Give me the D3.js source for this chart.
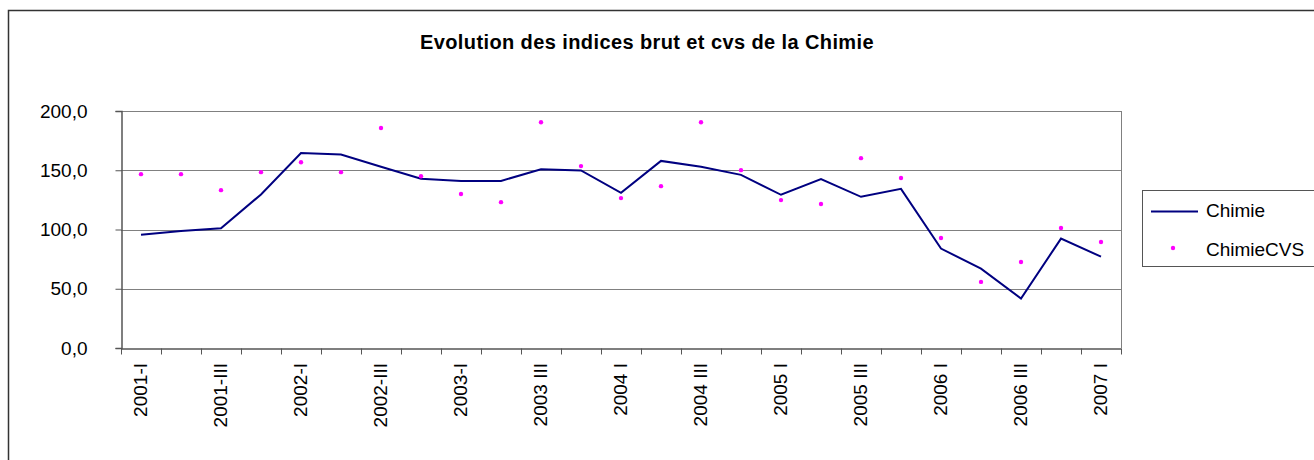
<!DOCTYPE html>
<html>
<head>
<meta charset="utf-8">
<script src="https://cdn.jsdelivr.net/npm/d3@7"></script>
<style>
  body { margin: 0; background: #fff; }
  svg { display: block; font-family: "Liberation Sans", Arial, sans-serif; }
</style>
</head>
<body>
<div id="chart"></div>
<script>
// quarters (categories)
var quarters = [
  "2001-I", "2001-II", "2001-III", "2001-IV",
  "2002-I", "2002-II", "2002-III", "2002-IV",
  "2003-I", "2003-II", "2003 III", "2003 IV",
  "2004 I", "2004 II", "2004 III", "2004 IV",
  "2005 I", "2005 II", "2005 III", "2005 IV",
  "2006 I", "2006 II", "2006 III", "2006 IV",
  "2007 I"
];

// raw index (line)
var chimie = [
  95.6, 98.8, 101.0, 129.6,
  164.6, 163.3, 152.9, 142.8,
  141.0, 141.0, 150.9, 149.8,
  131.0, 157.9, 152.9, 146.1,
  129.3, 142.5, 127.6, 134.3,
  83.9, 67.0, 41.8, 92.3,
  77.1
];

// seasonally adjusted index (dots)
var chimieCVS = [
  146.7, 146.7, 133.2, 148.4,
  156.8, 148.4, 185.7, 145.0,
  129.9, 123.1, 190.5, 153.5,
  126.5, 136.6, 190.5, 150.1,
  124.8, 121.5, 160.2, 143.4,
  92.8, 55.8, 72.6, 101.3,
  89.5
];

var yTicks = [0, 50, 100, 150, 200];

var svgWidth = 1314;
var svgHeight = 460;

var plot = { left: 121, top: 111, right: 1121, bottom: 348 };

var svg = d3.select("#chart")
  .append("svg")
  .attr("width", svgWidth)
  .attr("height", svgHeight);

// outer chart frame (runs off the right and bottom edges)
svg.append("rect")
  .attr("x", 8.5)
  .attr("y", 10.5)
  .attr("width", 1320)
  .attr("height", 470)
  .attr("fill", "#fff")
  .attr("stroke", "#333")
  .attr("stroke-width", 1.5);

// title
svg.append("text")
  .attr("x", 647)
  .attr("y", 49)
  .attr("text-anchor", "middle")
  .attr("font-size", "20px")
  .attr("font-weight", "bold")
  .attr("letter-spacing", "0.4px")
  .attr("fill", "#000")
  .text("Evolution des indices brut et cvs de la Chimie");

// scales
var xScale = d3.scaleBand()
  .domain(quarters)
  .range([plot.left, plot.right])
  .padding(0);

var yScale = d3.scaleLinear()
  .domain([0, 200])
  .range([plot.bottom, plot.top]);

var xc = function (d, i) { return xScale(quarters[i]) + xScale.bandwidth() / 2; };

// gridlines
svg.append("g")
  .selectAll("line")
  .data(yTicks.filter(function (t) { return t > 0; }))
  .enter()
  .append("line")
  .attr("x1", plot.left)
  .attr("x2", plot.right)
  .attr("y1", function (d) { return Math.round(yScale(d)) + 0.5; })
  .attr("y2", function (d) { return Math.round(yScale(d)) + 0.5; })
  .attr("stroke", "#808080")
  .attr("stroke-width", 1);

// right border of plot area
svg.append("line")
  .attr("x1", plot.right + 0.5)
  .attr("x2", plot.right + 0.5)
  .attr("y1", plot.top)
  .attr("y2", plot.bottom)
  .attr("stroke", "#808080");

// y axis
var leftAxis = d3.axisLeft(yScale)
  .tickValues(yTicks)
  .tickSize(6)
  .tickPadding(28)
  .tickFormat(function (d) { return d3.format(".1f")(d).replace(".", ","); });

var yAxis = svg.append("g")
  .attr("transform", "translate(" + (plot.left + 0.5) + ",0)")
  .call(leftAxis);

yAxis.select(".domain").attr("stroke", "#555").attr("stroke-width", 1.5);
yAxis.selectAll(".tick line").attr("stroke", "#555");
yAxis.selectAll(".tick text")
  .attr("font-size", "19px")
  .attr("font-family", "Liberation Sans, Arial, sans-serif")
  .attr("fill", "#000");

// x axis with boundary ticks
var bottomAxis = d3.axisBottom(xScale).tickSize(0).tickFormat("");
var xAxis = svg.append("g")
  .attr("transform", "translate(0," + (plot.bottom + 0.5) + ")")
  .call(bottomAxis);
xAxis.select(".domain").attr("stroke", "#555").attr("stroke-width", 1.5);

var boundaries = quarters.map(function (q) { return xScale(q); }).concat([plot.right]);
xAxis.selectAll("line.bound")
  .data(boundaries)
  .enter()
  .append("line")
  .attr("class", "bound")
  .attr("x1", function (d) { return d + 0.5; })
  .attr("x2", function (d) { return d + 0.5; })
  .attr("y1", 0)
  .attr("y2", 6)
  .attr("stroke", "#555");

// x labels, every other quarter
svg.append("g")
  .selectAll("text")
  .data(quarters)
  .enter()
  .filter(function (d, i) { return i % 2 === 0; })
  .append("text")
  .attr("transform", function (d) {
    var x = xScale(d) + xScale.bandwidth() / 2;
    return "translate(" + x + "," + (plot.bottom + 15) + ") rotate(-90)";
  })
  .attr("dy", "0.33em")
  .attr("text-anchor", "end")
  .attr("font-size", "19px")
  .attr("fill", "#000")
  .text(function (d) { return d; });

// line series
var line = d3.line()
  .x(xc)
  .y(function (d) { return yScale(d); });

svg.append("path")
  .datum(chimie)
  .attr("d", line)
  .attr("fill", "none")
  .attr("stroke", "#000080")
  .attr("stroke-width", 2);

// CVS dots
svg.append("g")
  .selectAll("circle")
  .data(chimieCVS)
  .enter()
  .append("circle")
  .attr("cx", xc)
  .attr("cy", function (d) { return yScale(d); })
  .attr("r", 2.2)
  .attr("fill", "#ff00ff");

// legend
var legend = svg.append("g");
legend.append("rect")
  .attr("x", 1142.5)
  .attr("y", 190.5)
  .attr("width", 200)
  .attr("height", 76)
  .attr("fill", "#fff")
  .attr("stroke", "#555")
  .attr("stroke-width", 1);

legend.append("line")
  .attr("x1", 1151)
  .attr("x2", 1198)
  .attr("y1", 211.5)
  .attr("y2", 211.5)
  .attr("stroke", "#000080")
  .attr("stroke-width", 2);

legend.append("circle")
  .attr("cx", 1173)
  .attr("cy", 248)
  .attr("r", 2.2)
  .attr("fill", "#ff00ff");

legend.append("text")
  .attr("x", 1206)
  .attr("y", 217)
  .attr("font-size", "19px")
  .attr("fill", "#000")
  .text("Chimie");

legend.append("text")
  .attr("x", 1206)
  .attr("y", 256)
  .attr("font-size", "19px")
  .attr("fill", "#000")
  .text("ChimieCVS");
</script>
</body>
</html>
